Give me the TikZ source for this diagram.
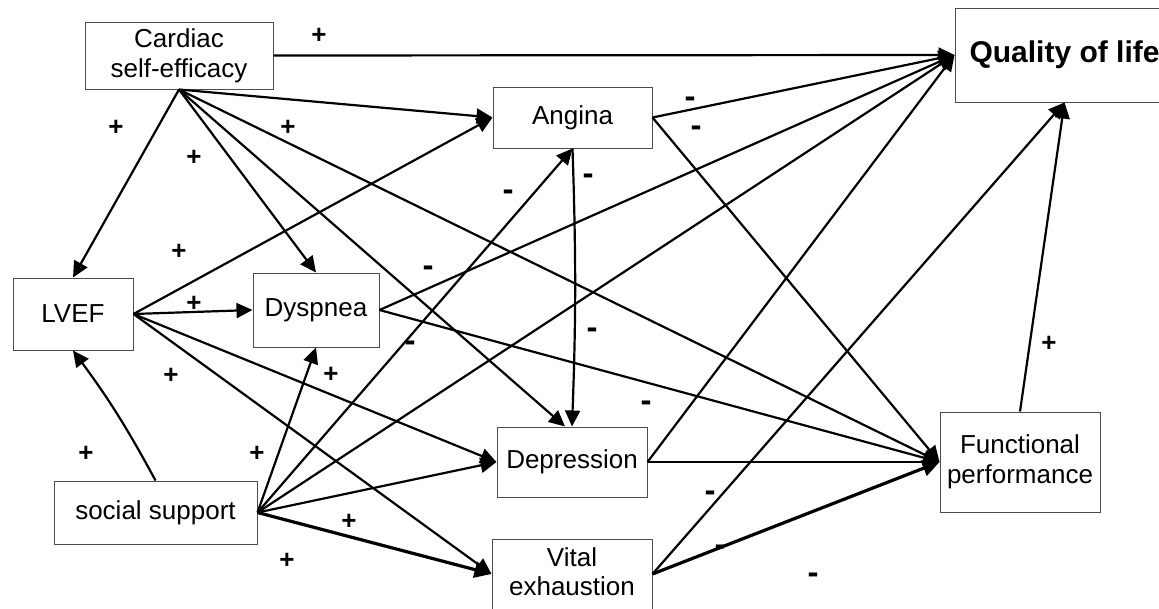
\documentclass[tikz,border=0pt]{standalone}
\usepackage{fontspec}
\setmainfont{Liberation Sans}
\usetikzlibrary{arrows.meta}
\begin{document}
\begin{tikzpicture}[x=1pt,y=-1pt,
  box/.style={draw=black!70, line width=1pt, inner sep=0pt, align=center,
              font=\fontsize{26}{30}\selectfont},
  link/.style={line width=2.2pt, -{Triangle[length=16pt,width=15pt]}},
  heavy/.style={line width=3.2pt, -{Triangle[length=17pt,width=16pt]}},
  sign/.style={font=\fontsize{26}{30}\selectfont\bfseries, inner sep=0pt,
               text height=0.64em, text depth=0pt},
  neg/.style={sign, font=\fontsize{33}{36}\selectfont\bfseries}]
\useasboundingbox (0,0) rectangle (1159,608);
\clip (0,0) rectangle (1159,608);

% variables
\node[box, minimum width=188pt, minimum height=67pt] (cse) at (179,55.5) {Cardiac\\self-efficacy};
\node[box, minimum width=219pt, minimum height=94pt,
      font=\fontsize{30}{34}\selectfont\bfseries] (qol) at (1064.5,55) {Quality of life};
\node[box, minimum width=159pt, minimum height=61pt] (angina) at (572.5,117.5) {Angina};
\node[box, minimum width=120pt, minimum height=72pt] (lvef) at (73,314) {LVEF};
\node[box, minimum width=126pt, minimum height=74pt] (dysp) at (316,310) {Dyspnea};
\node[box, minimum width=203pt, minimum height=63pt] (soc) at (155.5,512.5) {social support};
\node[box, minimum width=150pt, minimum height=70pt] (dep) at (572,462) {Depression};
\node[box, minimum width=160pt, minimum height=70pt] (vitbox) at (572,574) {};
\node[align=center, inner sep=0pt, font=\fontsize{26}{29}\selectfont] (vit) at (572,572) {Vital\\exhaustion};
\node[box, minimum width=160pt, minimum height=100pt] (fp) at (1020,462) {Functional\\performance};

% paths from cardiac self-efficacy
\draw[link] (cse.east) -- (qol.west);
\draw[link] (cse.south) -- (angina.west);
\draw[link] (cse.south) -- (lvef.north);
\draw[link] (cse.south) -- (dysp.north);
\draw[link] (cse.south) -- ([xshift=-7pt]dep.north);
\draw[link] (cse.south) -- (fp.west);

% paths from LVEF
\draw[link] (lvef.east) -- (angina.west);
\draw[link] (lvef.east) -- (dysp.west);
\draw[link] (lvef.east) -- (dep.west);
\draw[link] (lvef.east) -- (vitbox.west);

% paths from social support
\draw[link] (soc.north) to[bend right=4] (lvef.south);
\draw[link] (soc.east) -- (dysp.south);
\draw[link] (soc.east) -- (angina.south);
\draw[link] (soc.east) -- (qol.west);
\draw[link] (soc.east) -- (dep.west);
\draw[heavy] (soc.east) -- (vitbox.west);

% paths from the symptoms
\draw[link] (dysp.east) -- (qol.west);
\draw[link] (dysp.east) -- (fp.west);
\draw[link] (angina.east) -- (qol.west);
\draw[link] (angina.east) -- (fp.west);
\draw[link] (angina.south) to[bend left=2] (dep.north);
\draw[link] (dep.east) -- (fp.west);
\draw[link] (dep.east) -- (qol.west);
\draw[heavy] (vitbox.east) -- (fp.west);
\draw[link] (vitbox.east) -- (qol.south);
\draw[link] (fp.north) -- (qol.south);

% signs of the paths
\node[sign] (s1) at (319,40) {+};
\node[sign] (s2) at (116,132) {+};
\node[sign] (s3) at (194,162) {+};
\node[sign] (s4) at (288,132) {+};
\node[neg] (s5) at (690,104) {-};
\node[neg] (s6) at (696,133) {-};
\node[neg] (s7) at (588,181) {-};
\node[neg] (s8) at (508,197) {-};
\node[sign] (s9) at (179,256) {+};
\node[sign] (s10) at (194,308) {+};
\node[neg] (s11) at (428,273) {-};
\node[neg] (s12) at (410,348) {-};
\node[neg] (s13) at (592,335) {-};
\node[sign] (s14) at (171,380) {+};
\node[sign] (s15) at (331,379) {+};
\node[neg] (s16) at (646,408) {-};
\node[sign] (s17) at (86,458) {+};
\node[sign] (s18) at (257,458) {+};
\node[sign] (s19) at (349,526) {+};
\node[sign] (s20) at (287,565) {+};
\node[neg] (s21) at (710,498) {-};
\node[neg] (s22) at (720,552) {-};
\node[neg] (s23) at (813,580) {-};
\node[sign] (s24) at (1049,348) {+};
\end{tikzpicture}
\end{document}
